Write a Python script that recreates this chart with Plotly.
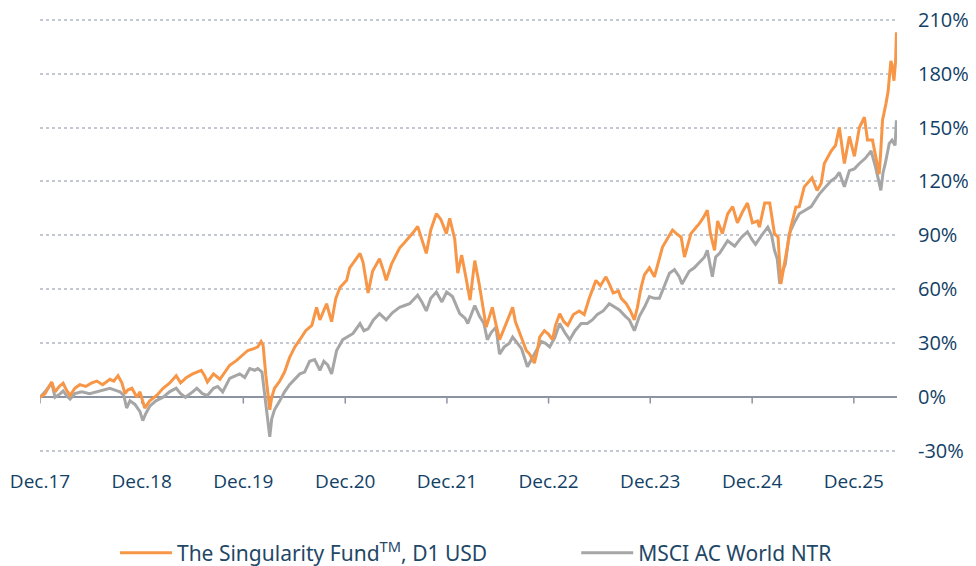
import plotly.graph_objects as go

# ---- data ----
fund_dates = [
    "2017-12-15","2018-01-02","2018-01-26","2018-02-07","2018-02-22","2018-03-08","2018-03-20","2018-04-02",
    "2018-04-19","2018-05-07","2018-05-28","2018-06-19","2018-07-07","2018-07-28","2018-08-23","2018-09-06",
    "2018-09-21","2018-10-05","2018-10-16","2018-10-26","2018-11-10","2018-11-28","2018-12-09","2018-12-26",
    "2019-01-13","2019-02-07","2019-03-02","2019-03-25","2019-04-18","2019-05-04","2019-05-25","2019-06-16",
    "2019-07-17","2019-07-29","2019-08-08","2019-08-30","2019-09-22","2019-10-09","2019-10-27","2019-11-21",
    "2019-12-09","2019-12-31","2020-01-22","2020-02-05","2020-02-17","2020-02-24","2020-03-05","2020-03-12",
    "2020-03-19","2020-03-26","2020-04-05","2020-04-24","2020-05-11","2020-05-29","2020-06-17","2020-07-05",
    "2020-07-26","2020-08-17","2020-09-03","2020-09-15","2020-10-09","2020-10-27","2020-11-11","2020-11-26",
    "2020-12-20","2020-12-31","2021-01-19","2021-02-06","2021-02-17","2021-03-07","2021-03-23","2021-04-17",
    "2021-05-02","2021-05-11","2021-05-30","2021-06-28","2021-07-16","2021-08-03","2021-08-18","2021-09-01",
    "2021-09-16","2021-10-02","2021-10-18","2021-11-07","2021-11-23","2021-12-13","2021-12-25","2022-01-12",
    "2022-01-23","2022-02-06","2022-02-22","2022-03-08","2022-03-25","2022-04-11","2022-05-05","2022-05-16",
    "2022-05-27","2022-06-10","2022-06-22","2022-07-13","2022-08-08","2022-08-18","2022-09-02","2022-09-16",
    "2022-09-26","2022-10-08","2022-10-25","2022-11-05","2022-11-13","2022-11-30","2022-12-15","2022-12-29",
    "2023-01-09","2023-01-24","2023-02-08","2023-02-22","2023-03-14","2023-04-04","2023-04-22","2023-05-10",
    "2023-06-03","2023-06-19","2023-07-09","2023-07-21","2023-08-04","2023-08-23","2023-09-02","2023-09-20",
    "2023-10-05","2023-10-19","2023-10-30","2023-11-12","2023-11-24","2023-12-12","2023-12-30","2024-01-28",
    "2024-02-15","2024-03-04","2024-03-18","2024-04-04","2024-04-16","2024-05-09","2024-05-25","2024-06-08",
    "2024-06-23","2024-07-07","2024-07-18","2024-08-02","2024-08-13","2024-08-30","2024-09-18","2024-10-06",
    "2024-10-23","2024-11-10","2024-11-28","2024-12-16","2025-01-03","2025-01-10","2025-01-29","2025-02-16",
    "2025-03-05","2025-03-18","2025-03-28","2025-04-05","2025-04-15","2025-05-03","2025-05-21","2025-06-02",
    "2025-06-20","2025-07-08","2025-07-18","2025-08-05","2025-08-20","2025-08-31","2025-09-25","2025-10-10",
    "2025-10-24","2025-11-11","2025-11-29","2025-12-17","2026-01-04","2026-01-22","2026-02-02","2026-02-20",
    "2026-03-03","2026-03-16","2026-03-21","2026-03-28","2026-04-09","2026-04-17","2026-04-27","2026-05-01",
    "2026-05-08","2026-05-14","2026-05-17",
]
fund_values = [
    0, 2, 8.5, 3, 6, 7.8, 4, 1,
    5, 7, 6, 8, 9, 7, 10, 9,
    12, 8, 2, 4, 5, 0, 3, -6,
    -2, 1, 5, 7.8, 12, 8, 11, 13,
    15, 12, 8.5, 13, 10, 14, 17.8, 20.5,
    23, 26, 27, 28, 31, 29, 12, 2,
    -7, 0, 5, 9, 14, 22, 28, 32,
    37, 40, 50, 43, 52, 42, 55, 61,
    65, 72, 76, 80, 75, 58, 70, 77,
    70, 65, 74, 83, 86, 89, 92, 95,
    88, 80, 93, 102, 99, 91, 99.5, 88,
    69, 79, 66, 54, 76, 62, 39, 45,
    50, 40, 32, 40, 50, 42, 35.5, 30,
    26, 24, 19, 26, 33.5, 37, 35, 32,
    40, 46.5, 42, 40, 46, 48, 46, 55,
    65, 62, 67, 63, 58, 59, 55, 52,
    48, 43, 50, 61, 68, 72, 67, 83.5,
    88, 93, 91, 89, 78, 91, 94, 96.5,
    100, 104, 91, 81.7, 98, 91, 102, 106,
    97, 103, 108, 97, 98, 94.6, 108, 108,
    91, 89, 63, 70, 78, 94.6, 105.7, 106,
    117, 120, 122, 115, 119, 130, 137, 140,
    150, 130, 145, 134, 150, 155.7, 143, 143,
    135, 124, 135, 154, 163, 170, 187, 185,
    176, 187, 203,
]

msci_dates = [
    "2017-12-15","2018-01-02","2018-01-26","2018-02-07","2018-02-26","2018-03-08","2018-03-20","2018-04-02",
    "2018-04-19","2018-05-14","2018-06-11","2018-07-07","2018-07-28","2018-08-23","2018-09-10","2018-09-28",
    "2018-10-12","2018-10-22","2018-11-03","2018-11-21","2018-12-09","2018-12-19","2018-12-30","2019-01-13",
    "2019-02-04","2019-03-02","2019-03-25","2019-04-18","2019-05-04","2019-05-21","2019-06-16","2019-07-01",
    "2019-07-21","2019-08-08","2019-08-30","2019-09-14","2019-10-02","2019-10-27","2019-11-18","2019-12-02",
    "2019-12-20","2020-01-07","2020-01-25","2020-02-05","2020-02-20","2020-03-01","2020-03-08","2020-03-19",
    "2020-03-26","2020-04-05","2020-04-24","2020-05-11","2020-05-29","2020-06-17","2020-07-05","2020-07-22",
    "2020-08-09","2020-08-27","2020-09-15","2020-09-29","2020-10-13","2020-10-27","2020-11-14","2020-12-06",
    "2021-01-12","2021-02-06","2021-02-20","2021-03-07","2021-03-26","2021-04-17","2021-05-11","2021-06-02",
    "2021-06-28","2021-07-16","2021-08-03","2021-09-01","2021-09-16","2021-10-02","2021-10-18","2021-11-07",
    "2021-11-27","2021-12-14","2022-01-04","2022-01-30","2022-02-18","2022-02-28","2022-03-25","2022-04-11",
    "2022-04-27","2022-05-09","2022-05-23","2022-06-09","2022-06-22","2022-07-09","2022-07-27","2022-08-08",
    "2022-08-26","2022-09-09","2022-09-30","2022-10-18","2022-11-02","2022-11-19","2022-12-04","2022-12-19",
    "2023-01-06","2023-01-24","2023-02-11","2023-03-01","2023-03-20","2023-04-11","2023-05-03","2023-05-21",
    "2023-06-08","2023-06-29","2023-07-21","2023-08-08","2023-08-26","2023-09-17","2023-10-01","2023-10-19",
    "2023-11-06","2023-11-24","2023-12-12","2023-12-30","2024-01-17","2024-02-04","2024-02-22","2024-03-11",
    "2024-03-28","2024-04-07","2024-05-03","2024-05-21","2024-06-08","2024-06-27","2024-07-07","2024-07-25",
    "2024-08-06","2024-08-20","2024-09-18","2024-10-13","2024-11-07","2024-11-28","2024-12-13","2024-12-27",
    "2025-01-18","2025-02-09","2025-02-23","2025-03-05","2025-03-15","2025-03-24","2025-04-02","2025-04-13",
    "2025-04-27","2025-05-15","2025-06-02","2025-06-24","2025-07-15","2025-08-13","2025-09-04","2025-09-25",
    "2025-10-10","2025-10-24","2025-11-11","2025-11-29","2025-12-17","2026-01-04","2026-01-26","2026-02-15",
    "2026-03-03","2026-03-12","2026-03-22","2026-03-30","2026-04-07","2026-04-21","2026-05-01","2026-05-12",
    "2026-05-17",
]
msci_values = [
    0, 3, 8, 0, 2, 3.5, 1, -1,
    2, 3, 2, 3, 4, 5, 4, 3,
    1, -6, -2, -4, -8, -13, -9, -5,
    -2, 0, 3, 5, 2, 0, 3, 5,
    2, 1, 5, 6, 3, 10.5, 12, 13,
    11, 16, 15, 16, 14, 0, -10, -22,
    -12, -7, -2, 3, 7, 10, 13, 14,
    20, 21, 15, 20, 18, 13, 26, 32,
    35.5, 41, 37, 38, 43, 46.5, 43, 47,
    50, 51, 52, 56.7, 53, 48, 55, 58.5,
    53, 58.5, 56, 46.5, 44, 41, 51, 45,
    41, 32, 36, 39, 24, 28, 30, 33.5,
    30, 27, 17, 22, 26, 31, 30, 28,
    33, 41, 36, 32, 37, 41, 41, 43,
    46, 48, 52, 50, 48.5, 45, 43, 37,
    45, 50, 56, 55, 55, 62, 69, 71,
    67, 63, 70, 72, 75, 78, 81.7, 67,
    78, 80, 87, 84, 89, 92, 88, 85,
    90, 94.6, 90, 81.7, 77, 63, 70, 74,
    91, 97, 102, 104, 106, 113, 117, 120.5,
    122, 125, 117, 126, 127, 130, 133, 137,
    128, 122, 115, 125, 130, 141, 143, 140,
    154,
]

x_tick_dates = ["2017-12-15", "2018-12-15", "2019-12-15", "2020-12-15", "2021-12-15",
                "2022-12-15", "2023-12-15", "2024-12-15", "2025-12-15"]
x_tick_labels = ["Dec.17", "Dec.18", "Dec.19", "Dec.20", "Dec.21",
                 "Dec.22", "Dec.23", "Dec.24", "Dec.25"]
y_tick_values = [-30, 0, 30, 60, 90, 120, 150, 180, 210]
y_tick_labels = ["-30%", "0%", "30%", "60%", "90%", "120%", "150%", "180%", "210%"]

series_names = ["The Singularity Fund<sup>TM</sup>, D1 USD", "MSCI AC World NTR"]

# ---- styling ----
ORANGE = "#F79646"
GREY = "#A6A6A6"
NAVY = "#123F66"
LEGEND_TXT = "#1F4766"
AXIS = "#8C93A3"
GRID = "#C3C8D1"

fig = go.Figure()
fig.add_trace(go.Scatter(x=msci_dates, y=msci_values, mode="lines", name=series_names[1],
                         line=dict(color=GREY, width=3), legend="legend2"))
fig.add_trace(go.Scatter(x=fund_dates, y=fund_values, mode="lines", name=series_names[0],
                         line=dict(color=ORANGE, width=3), legend="legend"))

# small tick marks on the zero line
for d in x_tick_dates:
    fig.add_shape(type="line", xref="x", yref="y", x0=d, x1=d, y0=0, y1=-3.5,
                  line=dict(color=AXIS, width=1.5), layer="below")

legend_common = dict(orientation="h", xref="container", yref="container",
                     xanchor="left", yanchor="middle", itemwidth=52,
                     font=dict(family="Noto Sans", size=21, color=LEGEND_TXT),
                     bgcolor="rgba(0,0,0,0)")

# the page body adds an 8px offset, so the figure is 968x558
fig.update_layout(
    width=968, height=558,
    margin=dict(l=32, r=79, t=8, b=113, autoexpand=False),
    paper_bgcolor="white", plot_bgcolor="white",
    font=dict(family="Open Sans", color=NAVY),
    showlegend=True,
    legend=dict(x=0.1105, y=0.0233, **legend_common),
    legend2=dict(x=0.587, y=0.0233, **legend_common),
    xaxis=dict(
        type="date", range=["2017-12-15", "2026-05-19"], automargin=False,
        tickmode="array", tickvals=x_tick_dates, ticktext=x_tick_labels,
        showgrid=False, showline=False, zeroline=False, ticks="",
        tickfont=dict(size=19, color=NAVY), ticklabelstandoff=15,
    ),
    yaxis=dict(
        side="right", range=[-31, 212], automargin=False,
        tickmode="array", tickvals=y_tick_values, ticktext=y_tick_labels,
        showgrid=True, gridcolor=GRID, griddash="dot", gridwidth=1.5,
        zeroline=True, zerolinecolor=AXIS, zerolinewidth=2,
        showline=False, ticks="", tickfont=dict(size=20, color=NAVY),
        ticklabelstandoff=20, ticklabeloverflow="allow",
    ),
)

fig.write_html("out.html")
